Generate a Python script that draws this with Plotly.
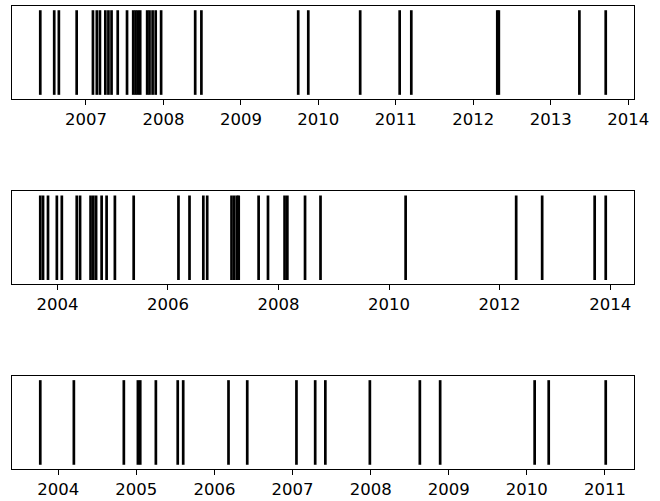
import plotly.graph_objects as go

# Event times (decimal years) for the three series
events_a = [2006.41, 2006.59, 2006.65, 2006.88, 2007.09, 2007.14, 2007.18,
            2007.25, 2007.29, 2007.33, 2007.41, 2007.53, 2007.61, 2007.64,
            2007.67, 2007.70, 2007.79, 2007.82, 2007.86, 2007.90, 2007.97,
            2008.41, 2008.49, 2009.74, 2009.87, 2010.54, 2011.05, 2011.20,
            2012.31, 2012.33, 2013.37, 2013.71]
events_b = [2003.69, 2003.74, 2003.83, 2003.99, 2004.08, 2004.35, 2004.41,
            2004.60, 2004.65, 2004.70, 2004.80, 2004.89, 2005.04, 2005.38,
            2006.19, 2006.39, 2006.64, 2006.71, 2007.15, 2007.20, 2007.25,
            2007.28, 2007.64, 2007.81, 2008.11, 2008.16, 2008.48, 2008.76,
            2010.30, 2012.30, 2012.77, 2013.72, 2013.92]
events_c = [2003.77, 2004.20, 2004.84, 2005.02, 2005.05, 2005.25, 2005.53,
            2005.60, 2006.18, 2006.42, 2007.05, 2007.29, 2007.42, 2007.99,
            2008.63, 2008.89, 2010.10, 2010.28, 2011.01]

tick_step = [1, 2, 1]
series = [events_a, events_b, events_c]
domains = [[0.799, 1.0], [0.399, 0.600], [0.0, 0.201]]

fig = go.Figure()
for i, ev in enumerate(series):
    xs, ys = [], []
    for t in ev:
        xs += [t, t, None]
        ys += [0.5, 1.5, None]
    n = "" if i == 0 else str(i + 1)
    fig.add_trace(go.Scatter(x=xs, y=ys, mode="lines",
                             line=dict(color="black", width=2.7),
                             xaxis="x" + n, yaxis="y" + n,
                             hoverinfo="skip", showlegend=False))
    lo, hi = min(ev), max(ev)
    pad = 0.05 * (hi - lo)
    fig.layout["xaxis" + n] = dict(
        range=[lo - pad, hi + pad], domain=[0, 1], anchor="y" + n,
        dtick=tick_step[i], tick0=2000, tickformat="d", automargin=False,
        ticks="outside", ticklen=5, tickwidth=1.2, tickcolor="black",
        showline=True, linecolor="black", linewidth=1.2, mirror=True,
        showgrid=False, zeroline=False,
        tickfont=dict(family="DejaVu Sans", size=16.5, color="black"))
    fig.layout["yaxis" + n] = dict(
        range=[0.45, 1.55], domain=domains[i], anchor="x" + n,
        showticklabels=False, ticks="", automargin=False,
        showline=True, linecolor="black", linewidth=1.2, mirror=True,
        showgrid=False, zeroline=False)

fig.update_layout(width=660, height=501,
                  margin=dict(l=12, r=26, t=6, b=32),
                  plot_bgcolor="white", paper_bgcolor="white")
fig.write_html("out.html")
